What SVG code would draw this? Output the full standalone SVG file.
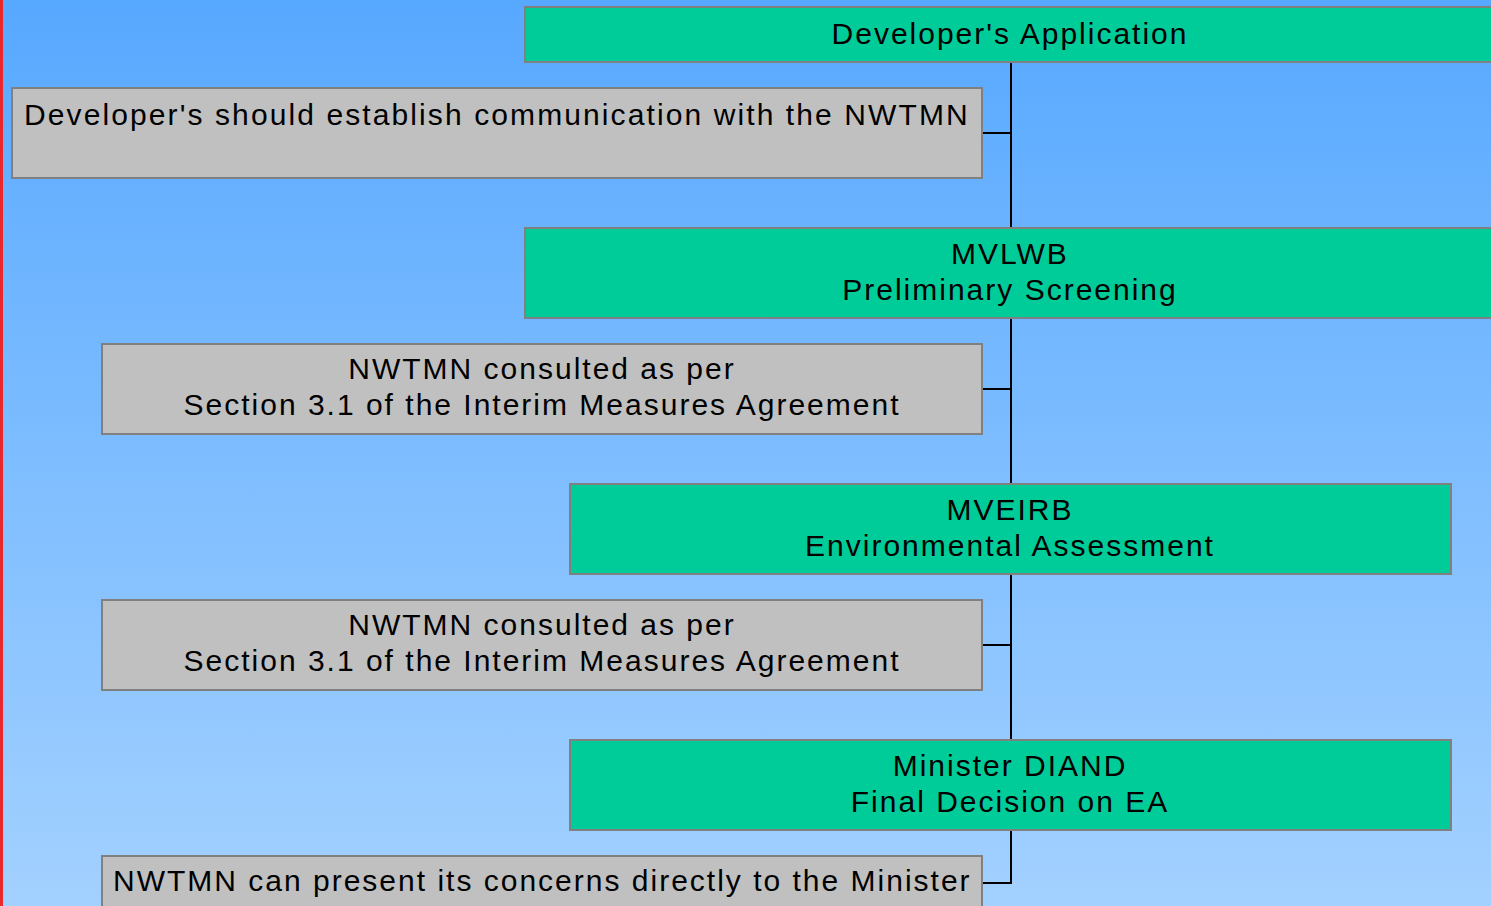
<svg xmlns="http://www.w3.org/2000/svg" width="1491" height="906" viewBox="0 0 1491 906">
  <defs>
    <linearGradient id="bg" x1="0" y1="0" x2="0" y2="1">
      <stop offset="0" stop-color="#57a8ff"/>
      <stop offset="1" stop-color="#a3d1ff"/>
    </linearGradient>
    <style>
      .green { fill: #00cc99; stroke: #808080; stroke-width: 2; }
      .gray { fill: #c0c0c0; stroke: #808080; stroke-width: 2; }
      .t { font-family: "Liberation Sans", Arial, sans-serif; font-size: 30px; letter-spacing: 2px; fill: #000; }
      .c { text-anchor: middle; }
      .conn { stroke: #000; stroke-width: 2; fill: none; }
    </style>
  </defs>
  <rect x="0" y="0" width="1491" height="906" fill="url(#bg)"/>
  <rect x="0" y="0" width="3" height="906" fill="#e8282d"/>

  <g id="connectors">
    <path class="conn" d="M1011 62 V228 M982 133 H1011"/>
    <path class="conn" d="M1011 318 V484 M982 389 H1011"/>
    <path class="conn" d="M1011 574 V740 M982 645 H1011"/>
    <path class="conn" d="M1011 830 V883 H982"/>
  </g>

  <g id="dev-app">
    <rect class="green" x="525" y="7" width="980" height="55"/>
    <text class="t c" x="1010" y="44">Developer's Application</text>
  </g>
  <g id="dev-comm">
    <rect class="gray" x="12" y="88" width="970" height="90"/>
    <text class="t" x="24" y="125" style="letter-spacing:2.1px">Developer's should establish communication with the NWTMN</text>
  </g>
  <g id="mvlwb">
    <rect class="green" x="525" y="228" width="980" height="90"/>
    <text class="t c" x="1010" y="264">MVLWB</text>
    <text class="t c" x="1010" y="300">Preliminary Screening</text>
  </g>
  <g id="consult1">
    <rect class="gray" x="102" y="344" width="880" height="90"/>
    <text class="t c" x="542" y="379">NWTMN consulted as per</text>
    <text class="t c" x="542" y="415">Section 3.1 of the Interim Measures Agreement</text>
  </g>
  <g id="mveirb">
    <rect class="green" x="570" y="484" width="881" height="90"/>
    <text class="t c" x="1010" y="520">MVEIRB</text>
    <text class="t c" x="1010" y="556">Environmental Assessment</text>
  </g>
  <g id="consult2">
    <rect class="gray" x="102" y="600" width="880" height="90"/>
    <text class="t c" x="542" y="635">NWTMN consulted as per</text>
    <text class="t c" x="542" y="671">Section 3.1 of the Interim Measures Agreement</text>
  </g>
  <g id="minister">
    <rect class="green" x="570" y="740" width="881" height="90"/>
    <text class="t c" x="1010" y="776">Minister DIAND</text>
    <text class="t c" x="1010" y="812">Final Decision on EA</text>
  </g>
  <g id="concerns">
    <rect class="gray" x="102" y="856" width="880" height="60"/>
    <text class="t" x="113" y="891">NWTMN can present its concerns directly to the Minister</text>
  </g>
</svg>
